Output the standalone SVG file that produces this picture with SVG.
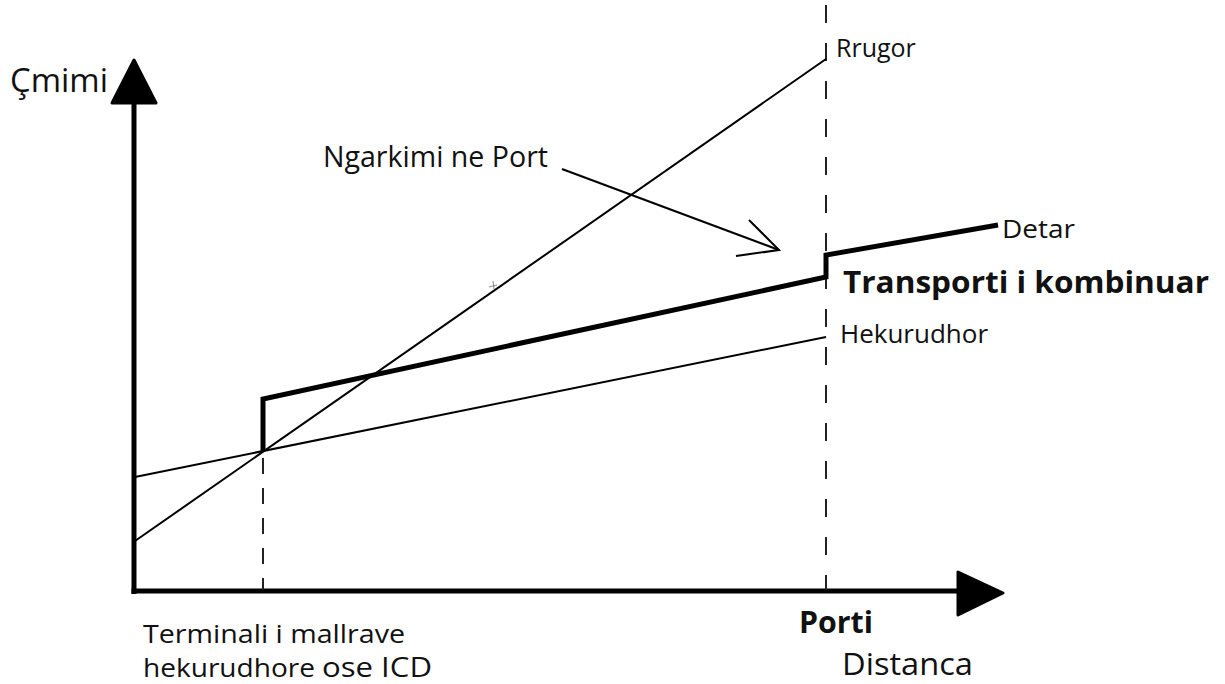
<svg xmlns="http://www.w3.org/2000/svg" width="1225" height="684" viewBox="0 0 1225 684">
  <style>
    .lbl { font-family: "Open Sans", "Liberation Sans", sans-serif; fill: #111; }
    .bold { font-weight: bold; }
    .axis { stroke: #000; stroke-width: 5; fill: none; }
    .thin { stroke: #000; stroke-width: 2; fill: none; }
    .thick { stroke: #000; stroke-width: 5; fill: none; stroke-linejoin: miter; }
    .dash { stroke: #222; stroke-width: 2; fill: none; }
  </style>
  <rect width="1225" height="684" fill="#fff"/>

  <!-- axes -->
  <g id="axes">
    <line class="axis" x1="134" y1="100" x2="134" y2="594"/>
    <line class="axis" x1="131.5" y1="591" x2="962" y2="591"/>
    <polygon points="134,60 112,103 156,103" fill="#000" stroke="#000" stroke-width="3" stroke-linejoin="round"/>
    <polygon points="1003,593 958,572 958,615" fill="#000" stroke="#000" stroke-width="3" stroke-linejoin="round"/>
  </g>

  <!-- reference verticals -->
  <g id="guides">
    <line class="dash" x1="263" y1="458" x2="263" y2="590" stroke-dasharray="16 14"/>
    <line class="dash" x1="826" y1="5" x2="826" y2="590" stroke-dasharray="18 20"/>
  </g>

  <!-- cost curves -->
  <g id="connectors">
    <line id="rrugor-line" class="thin" x1="135" y1="541" x2="826" y2="59"/>
    <line id="hekurudhor-line" class="thin" x1="135" y1="477" x2="826" y2="337"/>
    <polyline id="combined-line" class="thick" points="263,451 263,399 826,277 826,255 998,225"/>
    <g id="port-arrow">
      <line class="thin" x1="562" y1="169" x2="779" y2="250"/>
      <polyline class="thin" points="749,220 779,250 736,256"/>
    </g>
    <path d="M489,287 l8,-2 M493,281 l1,8" stroke="#888" stroke-width="1" fill="none"/>
  </g>

  <!-- labels -->
  <g id="label-cmimi"><text class="lbl" x="10" y="92" font-size="33" textLength="98" lengthAdjust="spacingAndGlyphs">Çmimi</text></g>
  <g id="label-rrugor"><text class="lbl" x="836" y="57" font-size="25">Rrugor</text></g>
  <g id="label-ngarkimi"><text class="lbl" x="323" y="167" font-size="28.5" textLength="225" lengthAdjust="spacingAndGlyphs">Ngarkimi ne Port</text></g>
  <g id="label-detar"><text class="lbl" x="1002" y="238" font-size="26" textLength="73" lengthAdjust="spacingAndGlyphs">Detar</text></g>
  <g id="label-kombinuar"><text class="lbl bold" x="843" y="293" font-size="31" textLength="366" lengthAdjust="spacingAndGlyphs">Transporti i kombinuar</text></g>
  <g id="label-hekurudhor"><text class="lbl" x="840" y="343" font-size="25.5" textLength="148" lengthAdjust="spacingAndGlyphs">Hekurudhor</text></g>
  <g id="label-terminal">
    <text class="lbl" x="143" y="643" font-size="25.5" textLength="262" lengthAdjust="spacingAndGlyphs">Terminali i mallrave</text>
    <text class="lbl" x="143" y="677" font-size="25.5" textLength="172" lengthAdjust="spacingAndGlyphs">hekurudhore</text>
    <text class="lbl" x="322" y="677" font-size="26.5" textLength="110" lengthAdjust="spacingAndGlyphs">ose ICD</text>
  </g>
  <g id="label-porti"><text class="lbl bold" x="799" y="633" font-size="30" textLength="74" lengthAdjust="spacingAndGlyphs">Porti</text></g>
  <g id="label-distanca"><text class="lbl" x="842" y="675" font-size="31" textLength="131" lengthAdjust="spacingAndGlyphs">Distanca</text></g>
</svg>
